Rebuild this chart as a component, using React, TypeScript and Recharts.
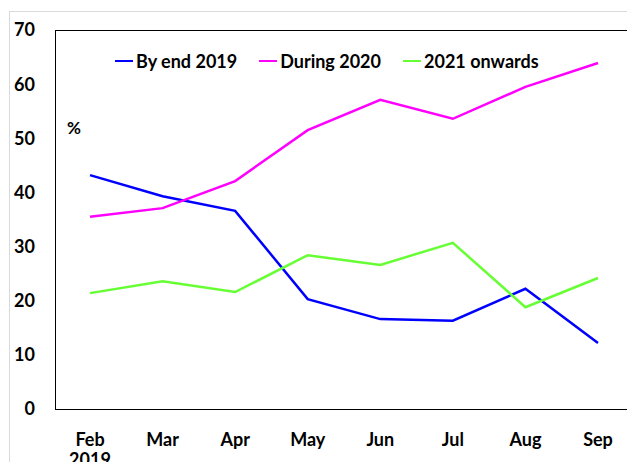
import React from "react";
import { LineChart, Line, XAxis, YAxis } from "recharts";

const months = ["Feb", "Mar", "Apr", "May", "Jun", "Jul", "Aug", "Sep"];
const byEnd2019 = [43.2, 39.3, 36.6, 20.3, 16.6, 16.3, 22.2, 12.2];
const during2020 = [35.5, 37.1, 42.1, 51.5, 57.1, 53.6, 59.5, 63.9];
const onwards2021 = [21.4, 23.6, 21.6, 28.4, 26.6, 30.7, 18.8, 24.2];
const yTicks = [0, 10, 20, 30, 40, 50, 60, 70];

const series = [
  { key: "a", name: "By end 2019", color: "#0000ff" },
  { key: "b", name: "During 2020", color: "#ff00ff" },
  { key: "c", name: "2021 onwards", color: "#66ff33" },
];

const FONT = "Lato, 'Open Sans', sans-serif";

const MonthTick = (props: any) => {
  const { x, y, payload, index } = props;
  return (
    <text x={x} y={y} textAnchor="middle" fontFamily={FONT} fontWeight={700} fontSize={18} fill="#000">
      <tspan x={x} dy="0.71em">{payload.value}</tspan>
      {index === 0 && <tspan x={x} dy="1.1em">2019</tspan>}
    </text>
  );
};

export default function App() {
  const data = months.map((m, i) => ({ month: m, a: byEnd2019[i], b: during2020[i], c: onwards2021[i] }));

  return (
    <div style={{ position: "relative", width: 635, height: 470, margin: -8, overflow: "hidden", background: "#fff" }}>
      <div style={{ position: "absolute", left: 9, top: 11, width: 700, height: 600, borderLeft: "1px solid #d9d9d9", borderTop: "1px solid #d9d9d9" }} />
      <LineChart width={635} height={470} data={data} margin={{ top: 30, right: 2, left: 0, bottom: 0 }}>
        <XAxis
          dataKey="month"
          height={61}
          axisLine={false}
          tickLine={false}
          tickSize={0}
          tickMargin={24}
          interval={0}
          padding={{ left: 35, right: 35 }}
          tick={<MonthTick />}
        />
        <YAxis
          width={55}
          domain={[0, 70]}
          ticks={yTicks}
          axisLine={false}
          tickLine={false}
          tickSize={0}
          tickMargin={20}
          tick={{ fontFamily: FONT, fontWeight: 700, fontSize: 18, fill: "#000" }}
        />
        {series.map((s) => (
          <Line key={s.key} dataKey={s.key} name={s.name} stroke={s.color} strokeWidth={2.5} dot={false} isAnimationActive={false} />
        ))}
      </LineChart>
      <div style={{ position: "absolute", left: 55, top: 30, width: 577, height: 378, border: "1px solid #000", pointerEvents: "none" }} />
      <div style={{ position: "absolute", left: 115, top: 50, display: "flex", alignItems: "center", fontFamily: FONT, fontWeight: 700, fontSize: 18 }}>
        {series.map((s, i) => (
          <div key={s.key} style={{ display: "flex", alignItems: "center", marginRight: i < 2 ? 22 : 0 }}>
            <div style={{ width: 18, height: 2.5, background: s.color, marginRight: 3 }} />
            <span>{s.name}</span>
          </div>
        ))}
      </div>
      <div style={{ position: "absolute", left: 67, top: 117, fontFamily: FONT, fontWeight: 700, fontSize: 17 }}>%</div>
    </div>
  );
}
